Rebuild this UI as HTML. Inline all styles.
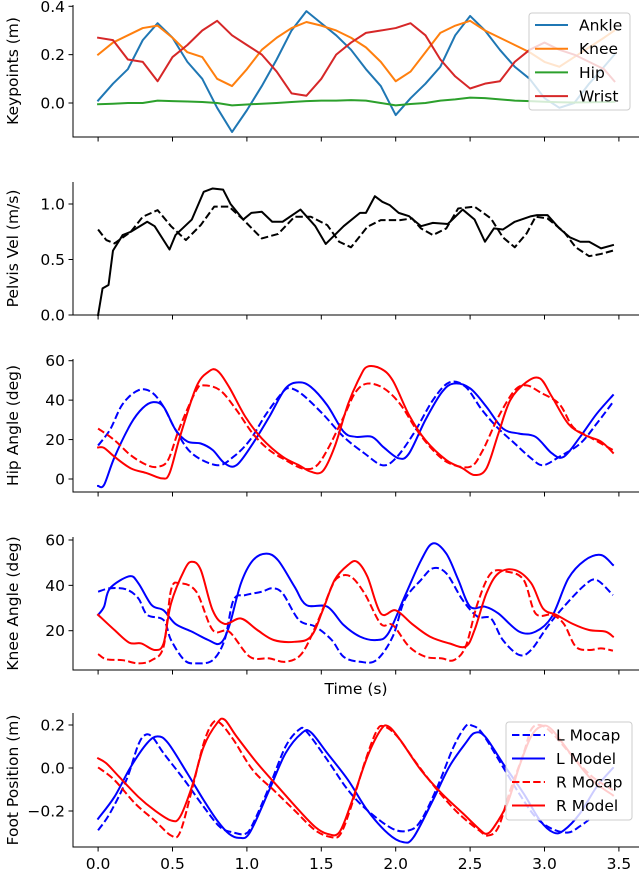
<!DOCTYPE html>
<html><head><meta charset="utf-8">
<style>
html,body{margin:0;padding:0;background:#fff;}
svg{display:block;font-family:"DejaVu Sans","Liberation Sans",sans-serif;}
</style></head>
<body>
<svg id="chart" width="640" height="871" viewBox="0 0 640 871" xmlns="http://www.w3.org/2000/svg"></svg>
<script>
// ---------- DATA ----------
const xTicks = [0,0.5,1.0,1.5,2.0,2.5,3.0,3.5];
const xTickLabels = ["0.0","0.5","1.0","1.5","2.0","2.5","3.0","3.5"];

// Panel 1: keypoints
const kpTime = [0,0.1,0.2,0.3,0.4,0.5,0.6,0.7,0.8,0.9,1.0,1.1,1.2,1.3,1.4,1.5,1.6,1.7,1.8,1.9,2.0,2.1,2.2,2.3,2.4,2.5,2.6,2.7,2.8,2.9,3.0,3.1,3.2,3.3,3.4,3.47];
const ankle = [0.01,0.08,0.14,0.26,0.33,0.27,0.17,0.10,-0.02,-0.12,-0.03,0.07,0.18,0.30,0.38,0.33,0.28,0.22,0.14,0.07,-0.05,0.02,0.08,0.15,0.28,0.36,0.30,0.22,0.15,0.10,0.02,-0.02,0.0,0.08,0.15,0.20];
const knee = [0.20,0.25,0.28,0.31,0.32,0.27,0.21,0.19,0.10,0.07,0.14,0.22,0.27,0.31,0.335,0.32,0.30,0.27,0.23,0.17,0.09,0.13,0.21,0.29,0.32,0.34,0.30,0.27,0.24,0.21,0.17,0.15,0.19,0.23,0.27,0.30];
const hip = [-0.005,-0.003,0.0,0.0,0.01,0.008,0.006,0.004,0.0,-0.01,-0.006,-0.003,0.0,0.004,0.008,0.01,0.01,0.012,0.01,0.0,-0.01,-0.004,0.0,0.01,0.015,0.022,0.02,0.015,0.01,0.008,0.005,0.003,0.002,0.003,0.004,0.005];
const wrist = [0.27,0.26,0.18,0.17,0.09,0.19,0.24,0.30,0.34,0.28,0.24,0.20,0.13,0.04,0.03,0.10,0.20,0.25,0.29,0.30,0.31,0.33,0.28,0.18,0.11,0.06,0.08,0.09,0.17,0.22,0.25,0.22,0.20,0.17,0.14,0.09];

// Panel 2: pelvis velocity
const velModelT = [0,0.03,0.07,0.10,0.165,0.22,0.33,0.38,0.48,0.52,0.63,0.71,0.77,0.84,0.89,0.975,1.03,1.10,1.17,1.24,1.36,1.46,1.53,1.59,1.65,1.76,1.80,1.86,1.91,1.96,2.02,2.09,2.17,2.25,2.35,2.45,2.53,2.60,2.66,2.72,2.80,2.91,2.95,3.02,3.10,3.17,3.24,3.30,3.38,3.46];
const velModel = [0.0,0.24,0.27,0.58,0.72,0.75,0.84,0.80,0.59,0.72,0.86,1.11,1.14,1.13,1.0,0.86,0.92,0.93,0.84,0.84,0.95,0.80,0.64,0.72,0.80,0.92,0.92,1.07,1.02,0.99,0.92,0.89,0.80,0.83,0.82,0.95,0.86,0.66,0.78,0.77,0.84,0.89,0.90,0.90,0.78,0.70,0.66,0.66,0.60,0.63];
const velMocapT = [0,0.055,0.11,0.22,0.30,0.40,0.49,0.59,0.69,0.78,0.88,0.975,1.10,1.21,1.32,1.43,1.54,1.62,1.70,1.81,1.90,2.03,2.11,2.17,2.25,2.34,2.42,2.53,2.64,2.72,2.80,2.88,2.94,3.02,3.13,3.21,3.30,3.38,3.46];
const velMocap = [0.77,0.675,0.645,0.75,0.885,0.945,0.80,0.675,0.81,0.976,0.976,0.86,0.69,0.73,0.885,0.885,0.81,0.66,0.61,0.795,0.855,0.855,0.87,0.78,0.72,0.78,0.96,0.976,0.87,0.70,0.61,0.735,0.885,0.87,0.75,0.61,0.53,0.55,0.58];

// Panel 3: hip angle
const hipLModelT = [0,0.04,0.11,0.22,0.30,0.37,0.44,0.52,0.60,0.69,0.77,0.85,0.93,1.04,1.15,1.26,1.35,1.43,1.54,1.65,1.73,1.84,1.92,2.02,2.09,2.20,2.31,2.39,2.50,2.61,2.72,2.83,2.94,3.05,3.13,3.24,3.35,3.46];
const hipLModel = [-3.5,-3,11,28,36,39,36.6,25,19,18,14.7,8,7,18,31.5,46,49,46.7,37.4,24,21.4,21.4,16,10.5,13,30,44,48.4,46,36.6,25.6,23,21.4,13,11.3,21.4,33,42.5];
const hipLMocapT = [0,0.08,0.165,0.27,0.36,0.44,0.52,0.63,0.80,0.91,1.02,1.13,1.24,1.29,1.37,1.51,1.65,1.79,1.91,2.00,2.12,2.25,2.36,2.47,2.58,2.69,2.80,2.91,2.99,3.10,3.24,3.35,3.46];
const hipLMocap = [17,25,38,45,44,36.6,25,13,7,11.3,19.7,33,44,46,43,33,21.4,13,7,10.5,23,40,49,46.7,35,25.6,18,10.5,7,11.3,18,28,39];
const hipRModelT = [0,0.04,0.11,0.22,0.33,0.43,0.48,0.55,0.66,0.74,0.80,0.88,0.99,1.10,1.24,1.35,1.43,1.51,1.59,1.68,1.76,1.81,1.90,1.98,2.09,2.20,2.34,2.45,2.53,2.61,2.69,2.77,2.88,2.97,3.05,3.16,3.27,3.38,3.46];
const hipRModel = [16,15.8,11.3,5.4,2.9,0.3,2.9,21.4,46.7,54.3,55,46.7,31.5,20.6,11.3,7,3.7,4,16.4,38,51.8,57,56,50,32.4,19.7,9.6,5.4,2,5.4,23,40,49.2,51,41.7,28,22.3,19,13.3];
const hipRMocapT = [0,0.11,0.22,0.33,0.40,0.47,0.55,0.66,0.71,0.82,0.93,1.04,1.15,1.26,1.37,1.46,1.54,1.65,1.73,1.81,1.92,2.03,2.14,2.25,2.36,2.50,2.58,2.69,2.80,2.88,2.97,3.10,3.19,3.30,3.46];
const hipRMocap = [25.6,19.7,12,7,6.2,9.6,26.5,45,47.5,45,35,23,14.7,9.6,5.4,6.2,14.7,31.5,44,48.4,46,38,25,14.7,8,6.2,13.8,31.5,45,47.5,44,38,26.5,21.4,14.7];

// Panel 4: knee angle
const kneeLModelT = [0,0.04,0.08,0.21,0.27,0.36,0.44,0.52,0.63,0.74,0.82,0.88,0.96,1.04,1.13,1.21,1.32,1.40,1.54,1.65,1.76,1.87,1.95,2.06,2.17,2.25,2.34,2.42,2.50,2.60,2.69,2.83,2.94,3.05,3.16,3.27,3.38,3.46];
const kneeLModel = [27,30.6,38.7,44,41,31.3,29,23,19.6,15.9,14.4,21.8,40.9,51,54,51,39.4,31.3,30.6,22.5,17.4,15.9,18.8,35,51,58.5,54,42.5,30.6,30.6,27.6,19.6,19.6,26.2,43,51,53.4,49];
const kneeLMocapT = [0,0.08,0.19,0.27,0.33,0.44,0.49,0.58,0.66,0.77,0.85,0.91,0.99,1.10,1.17,1.24,1.35,1.46,1.57,1.65,1.76,1.87,1.98,2.06,2.17,2.25,2.34,2.45,2.55,2.64,2.72,2.83,2.91,3.02,3.13,3.27,3.35,3.46];
const kneeLMocap = [37.2,38.7,38.2,34.3,27,24.7,15.9,7,5.6,7,15.9,33.5,35.7,37.2,38.7,36.5,24.7,21.8,15.9,8.5,6.3,7,17.4,33.5,42.4,47.5,45.3,33.5,26.2,25.4,15.9,9.3,11.5,21.8,30.6,40.1,42.4,35.7];
const kneeRModelT = [0,0.11,0.21,0.29,0.38,0.44,0.49,0.58,0.63,0.69,0.77,0.85,0.96,1.07,1.18,1.32,1.43,1.51,1.59,1.68,1.74,1.81,1.90,2.00,2.11,2.23,2.36,2.47,2.53,2.61,2.69,2.80,2.91,2.99,3.08,3.19,3.30,3.41,3.46];
const kneeRModel = [27,20.3,14.7,14.4,11.5,14.4,32,46.8,50.4,46.8,29,23,25.4,20.3,15.9,15.1,17.4,29,42.4,49,50.4,43.8,27.6,29,23,17.4,14.4,13,20.3,36.5,45.3,46.8,41,29.8,27,23,20.3,19.6,17.4];
const kneeRMocapT = [0,0.055,0.165,0.27,0.36,0.44,0.49,0.55,0.66,0.77,0.88,1.02,1.15,1.26,1.37,1.48,1.57,1.62,1.70,1.79,1.90,1.98,2.09,2.20,2.31,2.39,2.47,2.55,2.64,2.75,2.86,2.94,3.05,3.13,3.21,3.30,3.38,3.46];
const kneeRMocap = [9.7,7.4,7,5.6,7,13,37.9,40.9,37.2,20.3,19.6,8.5,7.8,6.3,10,24.7,39.4,43.8,43.8,36.5,23,22.5,13,8.5,7.8,7,13,32,45.3,46,42.4,27.6,27,23,13,11.5,12.2,11.2];

// Panel 5: foot position
const footLModelT = [0,0.11,0.22,0.33,0.40,0.47,0.60,0.71,0.80,0.88,0.95,1.02,1.15,1.26,1.37,1.43,1.54,1.68,1.81,1.95,2.05,2.12,2.25,2.36,2.47,2.53,2.60,2.72,2.86,2.97,3.06,3.13,3.24,3.35,3.46];
const footLModel = [-0.236,-0.134,0.006,0.116,0.147,0.116,-0.025,-0.15,-0.244,-0.306,-0.325,-0.30,-0.103,0.069,0.163,0.166,0.069,-0.056,-0.197,-0.306,-0.345,-0.322,-0.15,0.006,0.116,0.163,0.147,0.022,-0.119,-0.244,-0.30,-0.29,-0.21,-0.088,0.0];
const footLMocapT = [0,0.08,0.19,0.27,0.32,0.37,0.44,0.58,0.71,0.82,0.91,0.99,1.04,1.15,1.26,1.35,1.40,1.54,1.68,1.81,1.98,2.09,2.17,2.28,2.39,2.47,2.51,2.58,2.72,2.83,2.94,3.05,3.16,3.24,3.30];
const footLMocap = [-0.29,-0.21,-0.056,0.108,0.155,0.14,0.069,-0.056,-0.181,-0.275,-0.30,-0.306,-0.26,-0.088,0.1,0.178,0.17,0.038,-0.103,-0.197,-0.283,-0.29,-0.244,-0.088,0.1,0.194,0.198,0.163,0.006,-0.119,-0.228,-0.283,-0.30,-0.27,-0.24];
const footRModelT = [0,0.055,0.14,0.27,0.38,0.49,0.55,0.63,0.71,0.80,0.85,0.93,1.07,1.21,1.35,1.46,1.54,1.62,1.70,1.81,1.90,1.95,2.03,2.17,2.31,2.45,2.56,2.61,2.66,2.75,2.83,2.91,2.98,3.05,3.19,3.32,3.46];
const footRModel = [0.045,0.022,-0.04,-0.134,-0.197,-0.244,-0.228,-0.088,0.1,0.209,0.225,0.147,0.022,-0.088,-0.197,-0.275,-0.306,-0.30,-0.166,0.053,0.178,0.194,0.131,-0.01,-0.119,-0.21,-0.283,-0.306,-0.275,-0.166,0.006,0.147,0.194,0.178,0.053,-0.056,-0.127];
const footRMocapT = [0,0.11,0.25,0.38,0.49,0.55,0.63,0.71,0.77,0.82,0.91,1.04,1.18,1.32,1.46,1.57,1.63,1.70,1.79,1.87,1.92,2.01,2.14,2.28,2.42,2.56,2.62,2.69,2.77,2.86,2.91,2.97,3.05,3.19,3.32,3.46];
const footRMocap = [0.003,-0.056,-0.166,-0.244,-0.314,-0.30,-0.103,0.116,0.209,0.209,0.131,-0.01,-0.103,-0.197,-0.29,-0.322,-0.306,-0.181,0.022,0.17,0.194,0.147,0.022,-0.103,-0.21,-0.29,-0.314,-0.275,-0.103,0.069,0.178,0.20,0.163,0.053,-0.04,-0.103];

// ---------- RENDER ----------
const NS = "http://www.w3.org/2000/svg";
const svg = document.getElementById('chart');
const X0 = 98.1, XS = 148.8, AXL = 73, AXR = 639;
const FS = 15.5;
const xScale = t => X0 + t*XS;

function mk(tag, attrs, parent){
  const e = document.createElementNS(NS, tag);
  for (const k in attrs) e.setAttribute(k, attrs[k]);
  (parent||svg).appendChild(e);
  return e;
}

function smoothPath(px){
  let d = `M${px[0][0].toFixed(2)},${px[0][1].toFixed(2)}`;
  for (let i=0;i<px.length-1;i++){
    const p0 = px[Math.max(0,i-1)], p1 = px[i], p2 = px[i+1], p3 = px[Math.min(px.length-1,i+2)];
    const c1x = p1[0]+(p2[0]-p0[0])/6, c1y = p1[1]+(p2[1]-p0[1])/6;
    const c2x = p2[0]-(p3[0]-p1[0])/6, c2y = p2[1]-(p3[1]-p1[1])/6;
    d += ` C${c1x.toFixed(2)},${c1y.toFixed(2)} ${c2x.toFixed(2)},${c2y.toFixed(2)} ${p2[0].toFixed(2)},${p2[1].toFixed(2)}`;
  }
  return d;
}

function panel(cfg){
  const g = mk('g', {});
  
  
  const yScale = v => cfg.y1 + (v - cfg.v1) * (cfg.y2 - cfg.y1) / (cfg.v2 - cfg.v1);
  cfg.series.forEach(s => {
    const pts = s.t.map((t,i)=>[xScale(t), yScale(s.v[i])]);
    const d = cfg.smooth ? smoothPath(pts) : 'M' + pts.map(p=>p[0].toFixed(2)+','+p[1].toFixed(2)).join(' L');
    const p = mk('path', {d, fill:'none', stroke:s.color, 'stroke-width':2, 'stroke-linejoin':'round', 'stroke-linecap': s.dash?'butt':'square'}, g);
    if (s.dash) p.setAttribute('stroke-dasharray', '7.4,3.2');
    
    
  });
  const yl = mk('line', {x1:AXL, y1:cfg.top, x2:AXL, y2:cfg.bottom, stroke:'#000', 'stroke-width':1}, g);
  
  
  const xl = mk('line', {x1:AXL-0.5, y1:cfg.bottom, x2:AXR, y2:cfg.bottom, stroke:'#000', 'stroke-width':1}, g);
  
  
  xTicks.forEach((t,i) => {
    const x = xScale(t);
    mk('line', {x1:x, y1:cfg.bottom, x2:x, y2:cfg.bottom+4.5, stroke:'#000', 'stroke-width':1}, g);
    if (cfg.xLabels){
      const tx = mk('text', {x:x, y:cfg.bottom+22, 'text-anchor':'middle', 'font-size':FS, fill:'#000'}, g);
      tx.textContent = xTickLabels[i];
      
      
    }
  });
  cfg.yTicks.forEach((v,i) => {
    const y = yScale(v);
    mk('line', {x1:AXL-4.5, y1:y, x2:AXL, y2:y, stroke:'#000', 'stroke-width':1}, g);
    const tx = mk('text', {x:AXL-8, y:y+5.5, 'text-anchor':'end', 'font-size':FS, fill:'#000'}, g);
    tx.textContent = cfg.yTickLabels[i];
    
    
  });
  const cy = (cfg.top + cfg.bottom)/2;
  const yt = mk('text', {x:0, y:0, 'text-anchor':'middle', 'font-size':FS, fill:'#000', transform:`translate(18,${cy}) rotate(-90)`}, g);
  yt.textContent = cfg.yTitle;
  
  
  return g;
}

panel({name:'keypoints-panel', top:5, bottom:137, v1:0, y1:103, v2:0.4, y2:6.3, smooth:false,
  yTicks:[0,0.2,0.4], yTickLabels:["0.0","0.2","0.4"], yTitle:'Keypoints (m)',
  series:[
    {name:'ankle-line', t:kpTime, v:ankle, color:'#1f77b4'},
    {name:'knee-line', t:kpTime, v:knee, color:'#ff7f0e'},
    {name:'hip-line', t:kpTime, v:hip, color:'#2ca02c'},
    {name:'wrist-line', t:kpTime, v:wrist, color:'#d62728'}
  ]});
panel({name:'pelvis-vel-panel', top:182, bottom:315, v1:0, y1:315, v2:1.0, y2:204, smooth:false,
  yTicks:[0,0.5,1.0], yTickLabels:["0.0","0.5","1.0"], yTitle:'Pelvis Vel (m/s)',
  series:[
    {name:'pelvis-vel-mocap', t:velMocapT, v:velMocap, color:'#000', dash:true},
    {name:'pelvis-vel-model', t:velModelT, v:velModel, color:'#000'}
  ]});
panel({name:'hip-angle-panel', top:359, bottom:492, v1:0, y1:479, v2:60, y2:360.7, smooth:true,
  yTicks:[0,20,40,60], yTickLabels:["0","20","40","60"], yTitle:'Hip Angle (deg)',
  series:[
    {name:'hip-l-mocap', t:hipLMocapT, v:hipLMocap, color:'#0000ff', dash:true},
    {name:'hip-l-model', t:hipLModelT, v:hipLModel, color:'#0000ff'},
    {name:'hip-r-mocap', t:hipRMocapT, v:hipRMocap, color:'#ff0000', dash:true},
    {name:'hip-r-model', t:hipRModelT, v:hipRModel, color:'#ff0000'}
  ]});
panel({name:'knee-angle-panel', top:537, bottom:670, v1:20, y1:630.7, v2:60, y2:540, smooth:true,
  yTicks:[20,40,60], yTickLabels:["20","40","60"], yTitle:'Knee Angle (deg)',
  series:[
    {name:'knee-l-mocap', t:kneeLMocapT, v:kneeLMocap, color:'#0000ff', dash:true},
    {name:'knee-l-model', t:kneeLModelT, v:kneeLModel, color:'#0000ff'},
    {name:'knee-r-mocap', t:kneeRMocapT, v:kneeRMocap, color:'#ff0000', dash:true},
    {name:'knee-r-model', t:kneeRModelT, v:kneeRModel, color:'#ff0000'}
  ]});
panel({name:'foot-position-panel', top:713, bottom:847, v1:0, y1:768, v2:0.2, y2:725, smooth:true, xLabels:true,
  yTicks:[-0.2,0,0.2], yTickLabels:["\u22120.2","0.0","0.2"], yTitle:'Foot Position (m)',
  series:[
    {name:'foot-l-mocap', t:footLMocapT, v:footLMocap, color:'#0000ff', dash:true},
    {name:'foot-l-model', t:footLModelT, v:footLModel, color:'#0000ff'},
    {name:'foot-r-mocap', t:footRMocapT, v:footRMocap, color:'#ff0000', dash:true},
    {name:'foot-r-model', t:footRModelT, v:footRModel, color:'#ff0000'}
  ]});

const tl = mk('text', {x:356, y:694, 'text-anchor':'middle', 'font-size':FS, fill:'#000'});
tl.textContent = 'Time (s)';



function legend(name, x, y, w, h, entries, lineX1, lineX2, textX, y0, dy){
  const g = mk('g', {});
  
  
  mk('rect', {x, y, width:w, height:h, rx:3, fill:'#fff', 'fill-opacity':0.8, stroke:'#ccc', 'stroke-width':1}, g);
  entries.forEach((e,i) => {
    const yy = y0 + i*dy;
    const l = mk('line', {x1:lineX1, y1:yy, x2:lineX2, y2:yy, stroke:e.color, 'stroke-width':2}, g);
    if (e.dash) l.setAttribute('stroke-dasharray', '7.4,3.2');
    const t = mk('text', {x:textX, y:yy+5.5, 'font-size':15.5, fill:'#000'}, g);
    t.textContent = e.label;
    
    
  });
}
legend('keypoints-legend', 529, 13, 101, 97, [
  {label:'Ankle', color:'#1f77b4'},{label:'Knee', color:'#ff7f0e'},
  {label:'Hip', color:'#2ca02c'},{label:'Wrist', color:'#d62728'}], 535, 568, 579, 25, 23.7);
legend('foot-legend', 506, 722, 126, 98, [
  {label:'L Mocap', color:'#0000ff', dash:true},{label:'L Model', color:'#0000ff'},
  {label:'R Mocap', color:'#ff0000', dash:true},{label:'R Model', color:'#ff0000'}], 512, 545, 556, 735, 23.5);
</script>
</body></html>
